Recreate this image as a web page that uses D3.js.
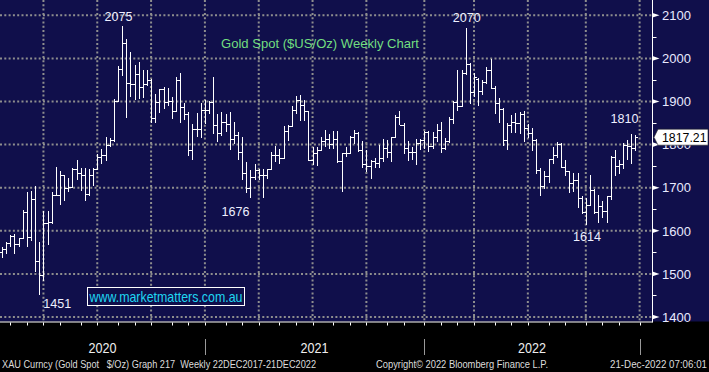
<!DOCTYPE html>
<html>
<head>
<meta charset="utf-8">
<script src="https://cdn.jsdelivr.net/npm/d3@7"></script>
<style>
  body { margin: 0; background: #000; }
  svg { display: block; font-family: "Liberation Sans", Arial, sans-serif; }
</style>
</head>
<body>
<div id="chart"></div>
<script>
const width = 709;
const height = 372;
const plotRight = 652.5;
const plotBottom = 321.5;

// weekly bars, week ending Friday
const weeks = d3.timeFriday.range(new Date(2020, 0, 17), new Date(2022, 11, 24));

const opens = [
  1550, 1557, 1571, 1589, 1570, 1584, 1643, 1585, 1674, 1530, 1498, 1617, 1620, 1683, 1683, 1729,
  1700, 1702, 1743, 1735, 1730, 1685, 1730, 1744, 1771, 1775, 1798, 1810, 1902, 1975, 2035, 1944,
  1940, 1964, 1934, 1941, 1950, 1861, 1899, 1930, 1899, 1902, 1878, 1951, 1887, 1870, 1787, 1837,
  1837, 1880, 1881, 1898, 1845, 1827, 1852, 1847, 1814, 1822, 1783, 1734, 1700, 1725, 1740, 1729,
  1729, 1743, 1777, 1777, 1768, 1831, 1843, 1881, 1903, 1891, 1877, 1764, 1781, 1787, 1808, 1812,
  1802, 1814, 1763, 1780, 1781, 1818, 1828, 1787, 1754, 1750, 1761, 1757, 1768, 1793, 1783, 1818,
  1865, 1846, 1792, 1783, 1782, 1804, 1811, 1829, 1797, 1817, 1835, 1791, 1808, 1860, 1898, 1889,
  1966, 1988, 1921, 1953, 1925, 1946, 1974, 1932, 1896, 1883, 1810, 1846, 1853, 1850, 1871, 1839,
  1826, 1811, 1742, 1703, 1727, 1766, 1775, 1802, 1747, 1738, 1712, 1717, 1675, 1644, 1661, 1695,
  1644, 1657, 1645, 1681, 1771, 1751, 1755, 1798, 1797, 1793
];
const highs = [
  1563, 1574, 1590, 1592, 1584, 1649, 1689, 1692, 1704, 1575, 1645, 1645, 1690, 1748, 1739, 1730,
  1723, 1745, 1765, 1745, 1745, 1744, 1745, 1779, 1789, 1818, 1815, 1905, 1983, 2075, 2045, 2015,
  1985, 1992, 1973, 1973, 1952, 1917, 1930, 1933, 1932, 1910, 1958, 1966, 1897, 1875, 1847, 1873,
  1897, 1904, 1901, 1958, 1872, 1876, 1872, 1876, 1852, 1829, 1818, 1760, 1740, 1754, 1744, 1744,
  1744, 1783, 1797, 1789, 1843, 1845, 1890, 1913, 1916, 1903, 1879, 1795, 1795, 1818, 1834, 1825,
  1832, 1832, 1780, 1795, 1820, 1834, 1830, 1809, 1787, 1765, 1769, 1800, 1814, 1810, 1818, 1869,
  1877, 1850, 1808, 1795, 1814, 1812, 1831, 1832, 1829, 1848, 1853, 1815, 1865, 1902, 1974, 1972,
  2070, 1990, 1966, 1955, 1949, 1980, 1998, 1937, 1909, 1884, 1849, 1869, 1874, 1876, 1879, 1847,
  1839, 1814, 1745, 1739, 1767, 1794, 1807, 1803, 1765, 1739, 1733, 1735, 1681, 1675, 1730, 1698,
  1682, 1670, 1681, 1774, 1787, 1764, 1804, 1810, 1824, 1823
];
const lows = [
  1536, 1546, 1563, 1547, 1562, 1580, 1563, 1576, 1504, 1451, 1484, 1567, 1615, 1680, 1660, 1670,
  1690, 1700, 1718, 1693, 1670, 1681, 1705, 1741, 1756, 1763, 1794, 1806, 1899, 1960, 1862, 1911,
  1903, 1906, 1907, 1937, 1849, 1849, 1873, 1883, 1890, 1859, 1877, 1850, 1858, 1773, 1765, 1818,
  1816, 1847, 1870, 1825, 1806, 1820, 1830, 1787, 1802, 1764, 1717, 1687, 1677, 1717, 1717, 1677,
  1721, 1740, 1760, 1756, 1766, 1808, 1843, 1870, 1855, 1855, 1761, 1752, 1750, 1784, 1795, 1790,
  1790, 1758, 1690, 1772, 1779, 1802, 1782, 1745, 1737, 1721, 1746, 1745, 1760, 1770, 1759, 1815,
  1845, 1778, 1762, 1765, 1753, 1788, 1789, 1782, 1790, 1805, 1780, 1788, 1804, 1848, 1878, 1889,
  1961, 1895, 1910, 1890, 1915, 1941, 1928, 1872, 1850, 1797, 1787, 1827, 1828, 1825, 1805, 1816,
  1784, 1732, 1681, 1698, 1711, 1754, 1770, 1745, 1727, 1688, 1691, 1654, 1639, 1614, 1660, 1640,
  1618, 1630, 1617, 1671, 1728, 1731, 1744, 1765, 1756, 1784
];
const closes = [
  1557, 1571, 1589, 1570, 1584, 1643, 1585, 1674, 1530, 1498, 1617, 1620, 1683, 1683, 1729, 1700,
  1702, 1743, 1735, 1730, 1685, 1730, 1744, 1771, 1775, 1798, 1810, 1902, 1975, 2035, 1944, 1940,
  1964, 1934, 1941, 1950, 1861, 1899, 1930, 1899, 1902, 1878, 1951, 1887, 1870, 1787, 1837, 1837,
  1880, 1881, 1898, 1845, 1827, 1852, 1847, 1814, 1822, 1783, 1734, 1700, 1725, 1740, 1729, 1729,
  1743, 1777, 1777, 1768, 1831, 1843, 1881, 1903, 1891, 1877, 1764, 1781, 1787, 1808, 1812, 1802,
  1814, 1763, 1780, 1781, 1818, 1828, 1787, 1754, 1750, 1761, 1757, 1768, 1793, 1783, 1818, 1865,
  1846, 1792, 1783, 1782, 1804, 1811, 1829, 1797, 1817, 1835, 1791, 1808, 1860, 1898, 1889, 1966,
  1988, 1921, 1958, 1925, 1946, 1974, 1932, 1896, 1883, 1810, 1846, 1853, 1850, 1871, 1839, 1826,
  1811, 1742, 1703, 1727, 1766, 1775, 1802, 1747, 1738, 1712, 1717, 1675, 1644, 1661, 1695, 1644,
  1657, 1645, 1681, 1771, 1751, 1755, 1798, 1797, 1793, 1817
];

const priceTicks = [1400, 1500, 1600, 1700, 1800, 1900, 2000, 2100];
const minorTicks = [1450, 1550, 1650, 1750, 1850, 1950, 2050];
const lastPrice = 1817.21;
const yearLabels = ['2020', '2021', '2022'];

const noteLabels = ['2075', '2070', '1810', '1676', '1614', '1451'];
const noteDates = [new Date(2020, 7, 7), new Date(2022, 2, 11), new Date(2022, 11, 9),
                   new Date(2021, 2, 12), new Date(2022, 8, 30), new Date(2020, 2, 20)];
const noteValues = [2075, 2070, 1810, 1676, 1614, 1451];

const svg = d3.select('#chart')
  .append('svg')
  .attr('width', width)
  .attr('height', height);

const x = d3.scaleTime()
  .domain([new Date(2020, 2, 20), new Date(2022, 8, 30)])
  .range([39.3, 585.8]);

const y = d3.scaleLinear()
  .domain([1400, 2100])
  .range([317, 15.3]);

// backgrounds
svg.append('rect').attr('width', width).attr('height', height).attr('fill', '#000');
svg.append('rect').attr('width', width).attr('height', plotBottom).attr('fill', '#100f4b');

// grid: last Friday of each quarter
const quarterLines = d3.timeMonth.every(3)
  .range(new Date(2020, 3, 1), new Date(2023, 0, 2))
  .map(d => d3.timeFriday.floor(d3.timeDay.offset(d, -1)));
const monthTicks = d3.timeMonth
  .range(new Date(2020, 1, 1), new Date(2023, 0, 2))
  .map(d => d3.timeFriday.floor(d3.timeDay.offset(d, -1)));

const grid = svg.append('g')
  .attr('stroke', '#8e8e8e')
  .attr('stroke-width', 2)
  .attr('stroke-dasharray', '2,2.3');

grid.selectAll('.hgrid')
  .data(priceTicks)
  .enter()
  .append('line')
  .attr('x1', 0)
  .attr('x2', plotRight - 1)
  .attr('y1', d => y(d))
  .attr('y2', d => y(d));

grid.selectAll('.vgrid')
  .data(quarterLines)
  .enter()
  .append('line')
  .attr('x1', d => x(d))
  .attr('x2', d => x(d))
  .attr('y1', 0)
  .attr('y2', plotBottom);

// OHLC bars
const bars = svg.append('g')
  .attr('stroke', '#fff')
  .attr('stroke-width', 1)
  .attr('shape-rendering', 'crispEdges')
  .attr('fill', 'none');

bars.selectAll('path')
  .data(weeks)
  .enter()
  .append('path')
  .attr('d', (d, i) => {
    const cx = Math.round(x(d)) + 0.5;
    return `M${cx},${y(highs[i])}V${y(lows[i])}` +
      `M${cx - 2.5},${Math.round(y(opens[i])) + 0.5}H${cx}` +
      `M${cx},${Math.round(y(closes[i])) + 0.5}H${cx + 2.5}`;
  });

// high / low notes
const noteOffsets = [[-3.5, -5.5], [1, -6.7], [-2.7, -17.7], [-15, 18], [1.2, 16.4], [18, 12.7]];
svg.selectAll('.note')
  .data(noteLabels)
  .enter()
  .append('text')
  .attr('x', (d, i) => x(noteDates[i]) + noteOffsets[i][0])
  .attr('y', (d, i) => y(noteValues[i]) + noteOffsets[i][1])
  .attr('text-anchor', 'middle')
  .attr('font-size', 13.5)
  .attr('textLength', 28)
  .attr('lengthAdjust', 'spacingAndGlyphs')
  .attr('fill', '#eef0ff')
  .text(d => d);

// title
svg.append('text')
  .attr('x', 221)
  .attr('y', 47.8)
  .attr('font-size', 13)
  .attr('textLength', 198)
  .attr('lengthAdjust', 'spacingAndGlyphs')
  .attr('fill', '#72de80')
  .text('Gold Spot ($US/Oz) Weekly Chart');

// watermark
svg.append('rect')
  .attr('x', 87.5)
  .attr('y', 287.5)
  .attr('width', 157)
  .attr('height', 18)
  .attr('fill', '#100f4b')
  .attr('stroke', '#fff')
  .attr('stroke-width', 1);
svg.append('text')
  .attr('x', 89.5)
  .attr('y', 301.5)
  .attr('font-size', 14.5)
  .attr('textLength', 153)
  .attr('lengthAdjust', 'spacingAndGlyphs')
  .attr('fill', '#1fd6f2')
  .text('www.marketmatters.com.au');

// right axis
svg.append('line')
  .attr('x1', plotRight).attr('x2', plotRight)
  .attr('y1', 0).attr('y2', plotBottom + 1)
  .attr('stroke', '#fff');

svg.selectAll('.tri')
  .data(priceTicks)
  .enter()
  .append('path')
  .attr('d', d => `M${plotRight},${y(d) - 2.3}L${plotRight + 7},${y(d)}L${plotRight},${y(d) + 2.3}Z`)
  .attr('fill', '#fff');

svg.selectAll('.minor')
  .data(minorTicks)
  .enter()
  .append('line')
  .attr('x1', plotRight).attr('x2', plotRight + 4)
  .attr('y1', d => Math.round(y(d)) + 0.5)
  .attr('y2', d => Math.round(y(d)) + 0.5)
  .attr('stroke', '#fff');

svg.selectAll('.ylab')
  .data(priceTicks)
  .enter()
  .append('text')
  .attr('x', 662)
  .attr('y', d => y(d) + 4.7)
  .attr('font-size', 13)
  .attr('fill', '#e8eaff')
  .text(d => d);

// bottom axis
svg.append('line')
  .attr('x1', 0).attr('x2', plotRight)
  .attr('y1', plotBottom + 0.5).attr('y2', plotBottom + 0.5)
  .attr('stroke', '#fff');

svg.selectAll('.mtick')
  .data(monthTicks)
  .enter()
  .append('line')
  .attr('x1', d => Math.round(x(d)) + 0.5)
  .attr('x2', d => Math.round(x(d)) + 0.5)
  .attr('y1', plotBottom + 1)
  .attr('y2', plotBottom + 4)
  .attr('stroke', '#fff');

const yearEnds = quarterLines.filter(d => d.getMonth() === 11);
const yearBounds = [0, ...yearEnds.map(d => x(d))];

svg.selectAll('.ysep')
  .data(yearEnds)
  .enter()
  .append('line')
  .attr('x1', d => Math.round(x(d)) + 0.5)
  .attr('x2', d => Math.round(x(d)) + 0.5)
  .attr('y1', 339)
  .attr('y2', 355)
  .attr('stroke', '#9a9a9a');

svg.selectAll('.year')
  .data(yearLabels)
  .enter()
  .append('text')
  .attr('x', (d, i) => (yearBounds[i] + yearBounds[i + 1]) / 2)
  .attr('y', 352.7)
  .attr('text-anchor', 'middle')
  .attr('font-size', 14)
  .attr('textLength', 28)
  .attr('lengthAdjust', 'spacingAndGlyphs')
  .attr('fill', '#eeeeee')
  .text(d => d);

// footer
const footer = [
  { text: 'XAU Curncy (Gold Spot   $/Oz) Graph 217  Weekly 22DEC2017-21DEC2022', x: 2, w: 314 },
  { text: 'Copyright\u00A9 2022 Bloomberg Finance L.P.', x: 376, w: 172 },
  { text: '21-Dec-2022 07:06:01', x: 610, w: 97 }
];
svg.selectAll('.foot')
  .data(footer)
  .enter()
  .append('text')
  .attr('x', d => d.x)
  .attr('y', 367.7)
  .attr('font-size', 10.5)
  .attr('textLength', d => d.w)
  .attr('lengthAdjust', 'spacingAndGlyphs')
  .attr('fill', '#dcdcdc')
  .style('white-space', 'pre')
  .text(d => d.text);

// last price box
const ly = y(lastPrice);
svg.append('path')
  .attr('d', `M${plotRight + 1.5},${ly}L${658},${ly - 8}H708V${ly + 8}H658Z`)
  .attr('fill', '#fff')
  .attr('stroke', '#222')
  .attr('stroke-width', 0.6);
svg.append('text')
  .attr('x', 662)
  .attr('y', ly + 4.7)
  .attr('font-size', 13)
  .attr('textLength', 44.5)
  .attr('lengthAdjust', 'spacingAndGlyphs')
  .attr('fill', '#000')
  .text(lastPrice.toFixed(2));
</script>
</body>
</html>
